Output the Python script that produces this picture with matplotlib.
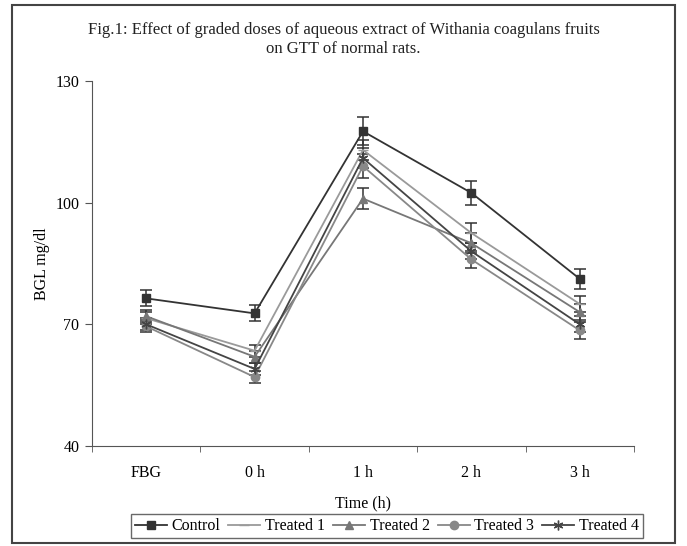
import matplotlib
matplotlib.use("Agg")
import matplotlib.pyplot as plt
import numpy as np
from matplotlib.lines import Line2D
from matplotlib.patches import Rectangle

# data
times = ["FBG", "0 h", "1 h", "2 h", "3 h"]
control = [76.4, 72.7, 117.6, 102.4, 81.2]
control_err = [2.0, 2.0, 3.5, 3.0, 2.5]
treated1 = [71.5, 63.5, 113.0, 92.5, 75.0]
treated1_err = [1.5, 1.5, 2.5, 2.5, 2.0]
treated2 = [72.0, 62.0, 101.0, 90.0, 73.0]
treated2_err = [1.5, 1.5, 2.5, 2.5, 2.0]
treated3 = [69.5, 57.0, 109.0, 86.0, 68.5]
treated3_err = [1.5, 1.5, 3.0, 2.0, 2.0]
treated4 = [70.0, 59.0, 111.0, 88.0, 70.0]
treated4_err = [1.5, 1.5, 2.5, 2.0, 2.0]

plt.rcParams["font.family"] = ["Liberation Serif", "DejaVu Serif"]

fig = plt.figure(figsize=(6.87, 5.46), dpi=100)
fig.patches.append(Rectangle((12 / 687, 0.005), 663 / 687, 0.985, transform=fig.transFigure,
                             fill=False, edgecolor="#444444", linewidth=1.5))

ax = fig.add_axes([92 / 687, 100 / 546, 542 / 687, 365 / 546])
x = np.arange(len(times))

series = [
    ("Control", control, control_err, "#333333", "s", 6),
    ("Treated 1", treated1, treated1_err, "#9a9a9a", "_", 7),
    ("Treated 2", treated2, treated2_err, "#777777", "^", 6),
    ("Treated 3", treated3, treated3_err, "#888888", "o", 6),
    ("Treated 4", treated4, treated4_err, "#444444", (6, 2, 0), 7),
]

handles = []
for label, vals, err, col, mk, ms in series:
    ax.errorbar(x, vals, yerr=err, color=col, marker=mk, markersize=ms,
                linewidth=1.3, ecolor="#333333", elinewidth=1.1, capsize=4,
                capthick=1.1, markeredgecolor=col)
    handles.append(Line2D([], [], color=col, marker=mk, markersize=ms,
                          linewidth=1.3, markeredgecolor=col, label=label))

ax.set_xlim(-0.5, len(times) - 0.5)
ax.set_ylim(40, 130)
ax.set_yticks([40, 70, 100, 130])
ax.set_xticks(x)
ax.set_xticklabels(times)
ax.set_xticks(np.arange(-0.5, len(times)), minor=True)
ax.tick_params(axis="x", which="major", length=0, pad=14, labelsize=11.5)
ax.tick_params(axis="x", which="minor", length=4, color="#555555", direction="out")
ax.tick_params(axis="y", length=5, color="#555555", labelsize=11.5, pad=4)
for side in ["top", "right"]:
    ax.spines[side].set_visible(False)
for side in ["left", "bottom"]:
    ax.spines[side].set_color("#555555")

ax.set_ylabel("BGL mg/dl", fontsize=11.5, labelpad=4)
ax.set_xlabel("Time (h)", fontsize=11.5, labelpad=10)

fig.text(0.5, 0.927, "Fig.1: Effect of graded doses of aqueous extract of Withania coagulans fruits\n"
         "on GTT of normal rats.", ha="center", va="center", fontsize=12, linespacing=1.25,
         color="#222222")

leg = fig.legend(handles=handles, loc="center", bbox_to_anchor=(0.563, 0.036), ncol=5,
                 frameon=True, fancybox=False, edgecolor="#444444", fontsize=11.5,
                 handlelength=2.0, columnspacing=0.5, handletextpad=0.3, borderpad=0.25)
leg.get_frame().set_linewidth(1.0)

fig.savefig("out.png", dpi=100)
